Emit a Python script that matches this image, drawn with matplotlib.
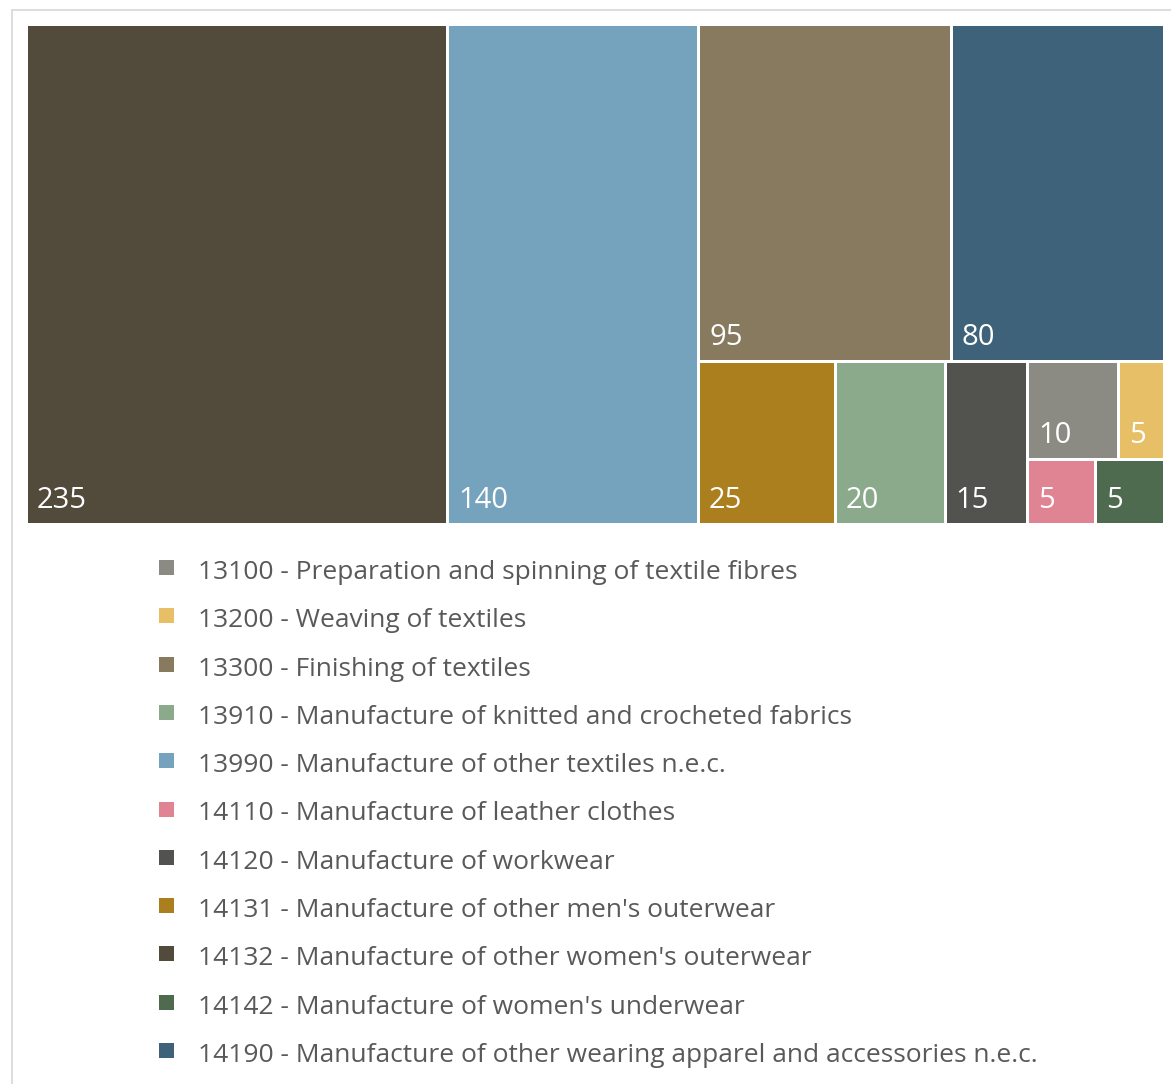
import matplotlib
matplotlib.use("Agg")
import matplotlib.pyplot as plt
from matplotlib.patches import Rectangle
from matplotlib.lines import Line2D

plt.rcParams['font.family'] = ['Open Sans', 'DejaVu Sans']

# NACE codes, their names and the number of companies in each
codes = ['13100', '13200', '13300', '13910', '13990', '14110',
         '14120', '14131', '14132', '14142', '14190']
names = ['Preparation and spinning of textile fibres',
         'Weaving of textiles',
         'Finishing of textiles',
         'Manufacture of knitted and crocheted fabrics',
         'Manufacture of other textiles n.e.c.',
         'Manufacture of leather clothes',
         'Manufacture of workwear',
         "Manufacture of other men's outerwear",
         "Manufacture of other women's outerwear",
         "Manufacture of women's underwear",
         'Manufacture of other wearing apparel and accessories n.e.c.']
counts = [10, 5, 95, 20, 140, 5, 15, 25, 235, 5, 80]
colors = ['#8b8b84', '#e6bf66', '#877a5f', '#8ba98b', '#75a2bd', '#e08494',
          '#52524e', '#ab7e1e', '#524a3a', '#4e6b50', '#3d6279']

W, H = 1171, 1084
TEXT = '#595959'


def squarify(values, x0, y0, x1, y1, ratio=1.015):
    # squarified tiling, rows go along the shorter side of what is left
    rects = []
    total = float(sum(values))
    i0 = 0
    n = len(values)
    while i0 < n:
        dx, dy = x1 - x0, y1 - y0
        i1 = i0 + 1
        s = values[i0]
        vmin = vmax = s
        alpha = max(dy / dx, dx / dy) / (total * ratio)
        beta = s * s * alpha
        best = max(vmax / beta, beta / vmin)
        while i1 < n:
            v = values[i1]
            s2 = s + v
            mn, mx = min(vmin, v), max(vmax, v)
            beta = s2 * s2 * alpha
            r = max(mx / beta, beta / mn)
            if r > best:
                break
            s, vmin, vmax, best = s2, mn, mx, r
            i1 += 1
        row = values[i0:i1]
        if dx < dy:
            # horizontal strip on top
            h = dy * s / total
            xx = x0
            for v in row:
                w = dx * v / s
                rects.append((xx, y0, w, h))
                xx += w
            y0 += h
        else:
            # vertical strip on the left
            w = dx * s / total
            yy = y0
            for v in row:
                h = dy * v / s
                rects.append((x0, yy, w, h))
                yy += h
            x0 += w
        total -= s
        i0 = i1
    return rects


fig = plt.figure(figsize=(W / 100, H / 100), dpi=100)
ax = fig.add_axes([0, 0, 1, 1])
ax.set_xlim(0, W)
ax.set_ylim(H, 0)
ax.axis('off')

# thin frame on the left and top
ax.add_line(Line2D([12, 12], [10, H], color='#dddddd', lw=1.4))
ax.add_line(Line2D([12, W], [10, 10], color='#dddddd', lw=1.4))

# treemap, biggest first
order = sorted(range(len(counts)), key=lambda k: -counts[k])
vals = [counts[k] for k in order]
gap = 1.5
boxes = squarify(vals, 26.5, 24.5, 1164.5, 524.5)
for k, (x, y, w, h) in zip(order, boxes):
    ax.add_patch(Rectangle((x + gap, y + gap), w - 2 * gap, h - 2 * gap,
                           facecolor=colors[k], edgecolor='none'))
    ax.text(x + gap + 9, y + h - gap - 15, str(counts[k]), color='white',
            fontsize=21, ha='left', va='baseline')

# legend, the last entry runs into the bottom edge
clip = Rectangle((0, 0), W, 1064.5, transform=ax.transData)
for i in range(len(codes)):
    yb = 579 + 48.3 * i
    ax.add_patch(Rectangle((159, yb - 19), 15, 15, facecolor=colors[i],
                           edgecolor='none'))
    t = ax.text(198, yb, codes[i] + ' - ' + names[i], color=TEXT,
                fontsize=19, ha='left', va='baseline')
    t.set_clip_path(clip)

fig.savefig('out.png', dpi=100)
